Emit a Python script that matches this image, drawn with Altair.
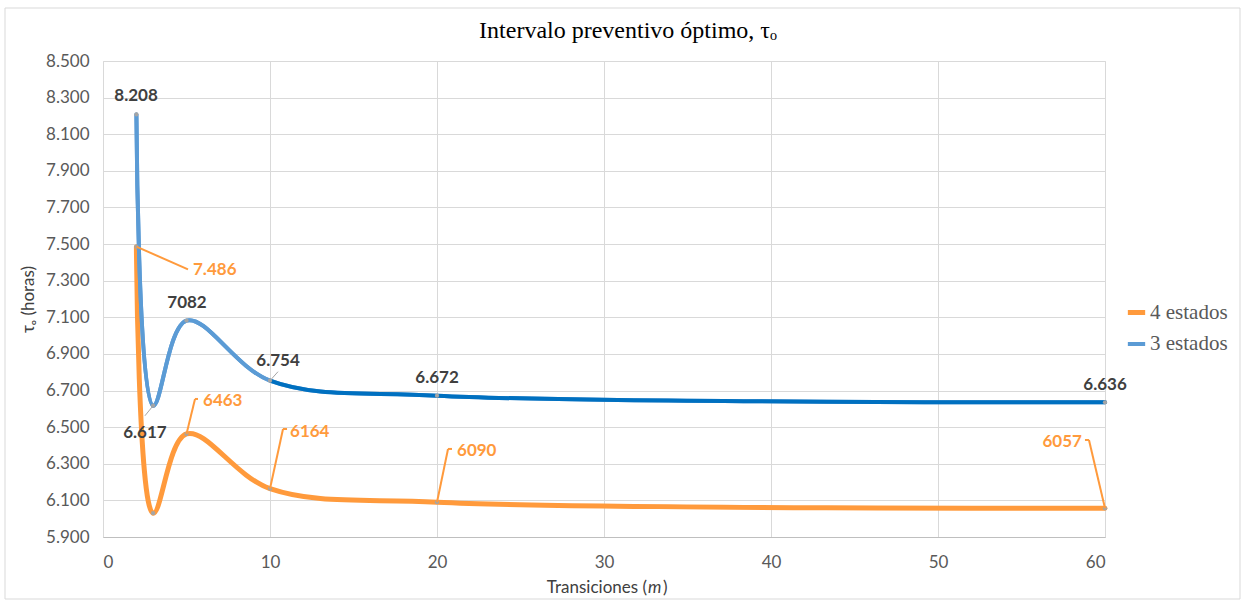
import altair as alt
import pandas as pd

# ---- data ----
transiciones = [2, 3, 5, 10, 20, 60]
tres_estados = [8208, 6617, 7082, 6754, 6672, 6636]
cuatro_estados = [7486, 6030, 6463, 6164, 6090, 6057]
series_names = ["4 estados", "3 estados"]
y_ticks = list(range(5900, 8501, 200))
x_ticks = [0, 10, 20, 30, 40, 50, 60]

# data labels (text, anchor position in data units)
lab_tres_text = ["8.208", "6.617", "7082", "6.754", "6.672", "6.636"]
lab_tres_x = [1.98, 2.51, 5.03, 10.48, 20.0, 60.0]
lab_tres_y = [8309, 6468, 7178, 6861, 6768, 6730]

lab_cuatro_text = ["7.486", "6463", "6164", "6090", "6057"]
lab_cuatro_x = [5.39, 5.99, 11.2, 21.2, 58.62]
lab_cuatro_y = [7358, 6643, 6473, 6370, 6419]
lab_cuatro_align = ["left", "left", "left", "left", "right"]

# leader line segments (x, y, x2, y2) in data units
lead_tres = [(3, 6617, 2.51, 6562), (10, 6754, 10.48, 6803)]
lead_cuatro = [
    (2, 7486, 5.09, 7362),
    (5, 6463, 5.51, 6654), (5.51, 6654, 5.69, 6654),
    (10, 6164, 10.78, 6490), (10.78, 6490, 11.02, 6490),
    (20, 6090, 20.66, 6381), (20.66, 6381, 20.9, 6381),
    (60, 6057, 59.04, 6430), (59.04, 6430, 58.8, 6430),
]

ORANGE = "#FF9A3C"
BLUE = "#5B9BD5"
DARKBLUE = "#0070C0"
INTERP = "catmull-rom"
# blue line turns darker from m = 10 on
split = (transiciones[3] - transiciones[0]) / (transiciones[-1] - transiciones[0])

df = pd.DataFrame({
    "m": transiciones * 2,
    "tau": cuatro_estados + tres_estados,
    "serie": ["4 estados"] * 6 + ["3 estados"] * 6,
})
df_blue = pd.DataFrame({"m": transiciones, "tau": tres_estados})
df_lt = pd.DataFrame({"t": lab_tres_text, "x": lab_tres_x, "y": lab_tres_y})
df_lc = pd.DataFrame({"t": lab_cuatro_text, "x": lab_cuatro_x, "y": lab_cuatro_y,
                      "a": lab_cuatro_align})
df_ldt = pd.DataFrame(lead_tres, columns=["x", "y", "x2", "y2"])
df_ldc = pd.DataFrame(lead_cuatro, columns=["x", "y", "x2", "y2"])

xscale = alt.Scale(domain=[0, 60], nice=False, zero=False)
yscale = alt.Scale(domain=[5900, 8500], nice=False, zero=False)

xaxis = alt.Axis(values=x_ticks, title=None, labelOverlap=False,
                 labelFont="Lato", labelFontSize=17, labelColor="#595959",
                 labelPadding=17, tickSize=0, domainColor="#BFBFBF",
                 gridColor="#D9D9D9")
yaxis = alt.Axis(values=y_ticks, title="τₒ (horas)", labelOverlap=False,
                 labelExpr="replace(format(datum.value, ','), ',', '.')",
                 labelFont="Lato", labelFontSize=17, labelColor="#595959",
                 labelPadding=14, titleFont="Lato", titleFontSize=17,
                 titleFontWeight="normal", titleColor="#404040", titlePadding=8,
                 tickSize=0, domain=False, gridColor="#D9D9D9")


def xq(f):
    return alt.X(f, type="quantitative", scale=xscale, axis=xaxis)


def yq(f):
    return alt.Y(f, type="quantitative", scale=yscale, axis=yaxis)


color = alt.Color("serie:N",
                  scale=alt.Scale(domain=series_names, range=[ORANGE, BLUE]),
                  legend=alt.Legend(title=None, orient="none", legendX=1022, legendY=240,
                                    symbolType="stroke", symbolStrokeWidth=4, symbolSize=300,
                                    labelFont="Liberation Serif", labelFontSize=21,
                                    labelColor="#595959", rowPadding=10, labelOffset=2))

lines = alt.Chart(df).mark_line(interpolate=INTERP, strokeCap="round").encode(
    x=xq("m"), y=yq("tau"), color=color,
    strokeWidth=alt.StrokeWidth("serie:N", scale=alt.Scale(domain=series_names, range=[5, 4]),
                                legend=None),
)
grad = alt.Gradient(gradient="linear", x1=0, x2=1, y1=0, y2=0, stops=[
    alt.GradientStop(offset=0, color=BLUE),
    alt.GradientStop(offset=split, color=BLUE),
    alt.GradientStop(offset=split + 0.001, color=DARKBLUE),
    alt.GradientStop(offset=1, color=DARKBLUE),
])
blue_line = alt.Chart(df_blue).mark_line(interpolate=INTERP, strokeWidth=4, strokeCap="round",
                                         stroke=grad).encode(x=xq("m"), y=yq("tau"))
pts = alt.Chart(df).mark_circle(size=18, color="#A5A5A5", opacity=1).encode(
    x=xq("m"), y=yq("tau"))

lead_t = alt.Chart(df_ldt).mark_rule(color="#A5A5A5", strokeWidth=1).encode(
    x=xq("x"), y=yq("y"), x2="x2:Q", y2="y2:Q")
lead_c = alt.Chart(df_ldc).mark_rule(color=ORANGE, strokeWidth=2).encode(
    x=xq("x"), y=yq("y"), x2="x2:Q", y2="y2:Q")

txt_t = alt.Chart(df_lt).mark_text(font="Lato", fontSize=17, fontWeight="bold",
                                   color="#404040", baseline="middle").encode(
    x=xq("x"), y=yq("y"), text="t:N")
txt_c_left = alt.Chart(df_lc[df_lc.a == "left"]).mark_text(
    font="Lato", fontSize=17, fontWeight="bold", color=ORANGE, baseline="middle",
    align="left").encode(x=xq("x"), y=yq("y"), text="t:N")
txt_c_right = alt.Chart(df_lc[df_lc.a == "right"]).mark_text(
    font="Lato", fontSize=17, fontWeight="bold", color=ORANGE, baseline="middle",
    align="right").encode(x=xq("x"), y=yq("y"), text="t:N")

title = alt.Chart(pd.DataFrame({"t": ["Intervalo preventivo óptimo, τₒ"]})).mark_text(
    font="Liberation Serif", fontSize=24, color="#000000", baseline="middle",
    align="center", clip=False).encode(x=alt.value(525), y=alt.value(-30), text="t:N")

# x axis title with italic m
xt_a = alt.Chart(pd.DataFrame({"t": ["Transiciones ("]})).mark_text(
    font="Lato", fontSize=17, color="#404040", baseline="middle", align="right",
    clip=False).encode(x=alt.value(544), y=alt.value(51 + 476), text="t:N")
xt_b = alt.Chart(pd.DataFrame({"t": ["m"]})).mark_text(
    font="Lato", fontSize=17, fontStyle="italic", color="#404040", baseline="middle",
    align="left", clip=False).encode(x=alt.value(545), y=alt.value(51 + 476), text="t:N")
xt_c = alt.Chart(pd.DataFrame({"t": [")"]})).mark_text(
    font="Lato", fontSize=17, color="#404040", baseline="middle", align="left",
    clip=False).encode(x=alt.value(560), y=alt.value(51 + 476), text="t:N")

frame = alt.Chart(pd.DataFrame({"k": [0]})).mark_rect(
    fill=None, stroke="#D9D9D9", strokeWidth=1, clip=False).encode(
    x=alt.value(-98), x2=alt.value(1137), y=alt.value(-53), y2=alt.value(538))

chart = alt.layer(frame, title, xt_a, xt_b, xt_c, lines, blue_line, pts, lead_t, lead_c,
                  txt_t, txt_c_left, txt_c_right).properties(
    width=1002, height=476,
    autosize=alt.AutoSizeParams(type="none"),
    padding={"left": 103, "top": 61, "right": 140, "bottom": 69},
).configure_view(stroke="#D9D9D9").configure(background="white")

chart.save("out.html", embed_options={"renderer": "svg", "actions": False})
